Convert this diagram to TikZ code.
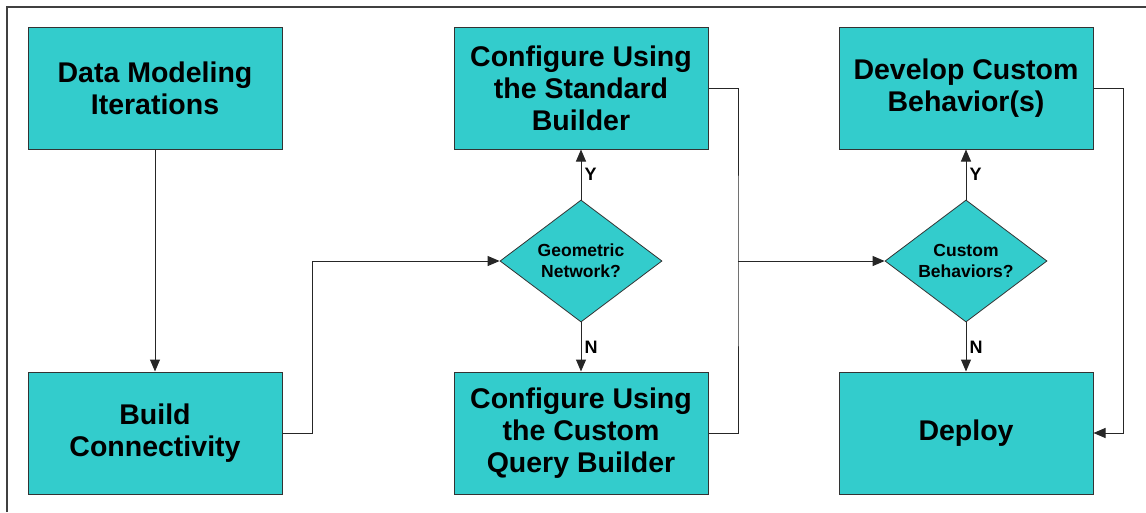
\documentclass[tikz,border=0pt]{standalone}
\usepackage{fontspec}
\setmainfont{Liberation Sans}
\usetikzlibrary{shapes.geometric,arrows.meta}
\definecolor{stepfill}{RGB}{51,204,204}

\begin{document}
\begin{tikzpicture}[x=1pt,y=-1pt,
    stepbox/.style={rectangle, draw=black!80, line width=1pt, fill=stepfill,
        minimum width=254pt, minimum height=122pt, align=center,
        font=\fontsize{28.5}{32}\selectfont\bfseries},
    choice/.style={diamond, draw=black!80, line width=0.8pt, fill=stepfill,
        aspect=1.33, inner sep=1pt, minimum width=162pt, minimum height=122pt,
        align=center, font=\fontsize{17.5}{21}\selectfont\bfseries},
    flow/.style={draw=black!85, line width=1pt},
    arr/.style={flow, -{Triangle[length=12pt,width=10pt]}},
    yn/.style={right, inner sep=3pt, font=\fontsize{18}{20}\selectfont\bfseries}]
    \useasboundingbox (0,0) rectangle (1146,512);
    \draw[black!75, line width=1.3pt] (7,512) -- (7,7) -- (1146,7);

    \node[stepbox] (data) at (155,88) {Data Modeling\\Iterations};
    \node[stepbox] (build) at (155,433) {Build\\Connectivity};
    \node[stepbox] (stdbuilder) at (581,88) {Configure Using\\the Standard\\Builder};
    \node[choice] (geonet) at (581,261) {Geometric\\Network?};
    \node[stepbox] (qrybuilder) at (581,433) {Configure Using\\the Custom\\Query Builder};
    \node[stepbox] (custom) at (966,88) {Develop Custom\\Behavior(s)};
    \node[choice] (behav) at (966,261) {Custom\\Behaviors?};
    \node[stepbox] (deploy) at (966,433) {Deploy};
    \coordinate (merge) at (738,261);

    \draw[arr] (data) -- (build);
    \draw[arr] (build.east) -- ++(30,0) |- (geonet.west);
    \draw[arr] (geonet) -- node[yn] {Y} (stdbuilder);
    \draw[arr] (geonet) -- node[yn] {N} (qrybuilder);
    \draw[flow] (stdbuilder.east) -| (merge) |- (qrybuilder.east);
    \draw[arr] (merge) -- (behav.west);
    \draw[arr] (behav) -- node[yn] {Y} (custom);
    \draw[arr] (behav) -- node[yn] {N} (deploy);
    \draw[arr] (custom.east) -- ++(30,0) |- (deploy.east);
\end{tikzpicture}
\end{document}
